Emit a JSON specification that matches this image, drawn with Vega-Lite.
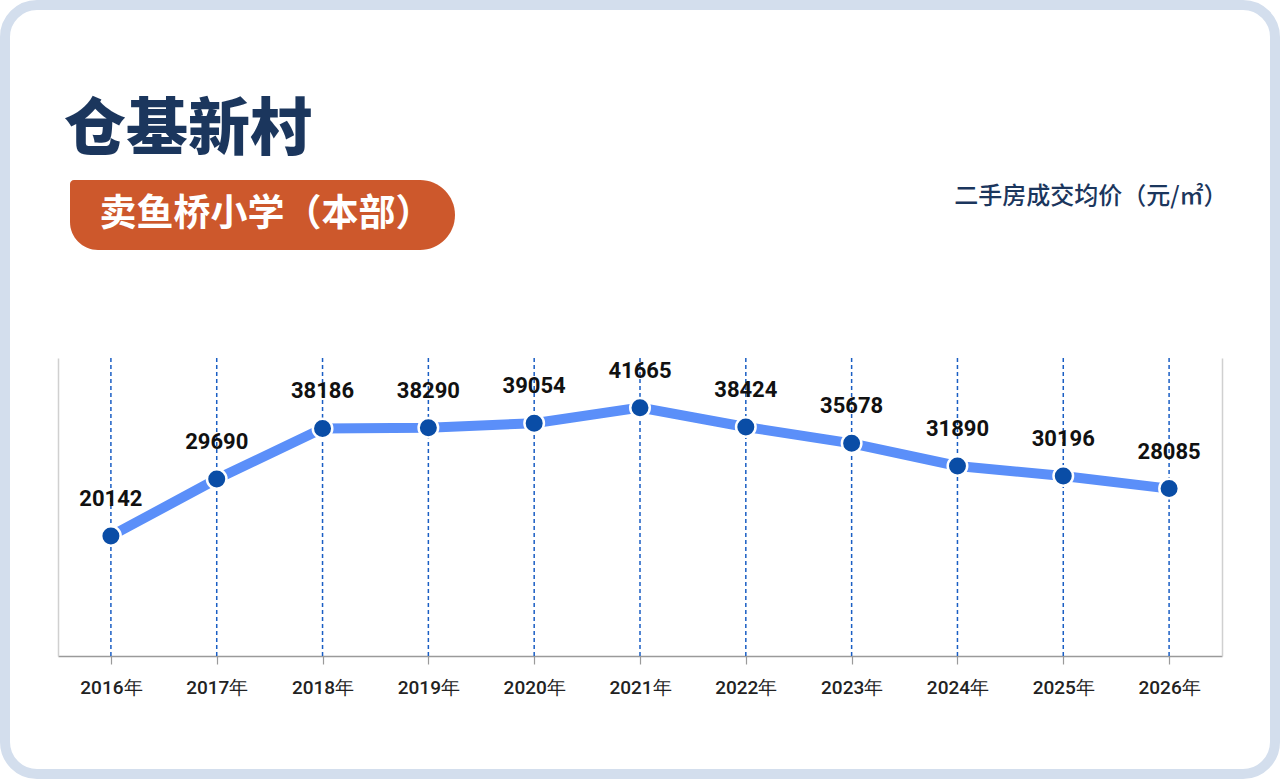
{
  "$schema": "https://vega.github.io/schema/vega-lite/v6.json",
  "width": 1270,
  "height": 769,
  "autosize": {"type": "none"},
  "padding": {"left": 5, "top": 5, "right": 5, "bottom": 5},
  "background": "white",
  "config": {
    "view": {"fill": "white", "stroke": "#d3deed", "strokeWidth": 10, "cornerRadius": 32},
    "font": "Roboto"
  },
  "title": {
    "text": "仓基新村",
    "anchor": "start",
    "frame": "group",
    "orient": "top",
    "dx": 59,
    "offset": -158,
    "font": "Noto Sans CJK SC",
    "fontSize": 62,
    "fontWeight": 900,
    "color": "#1b365d"
  },
  "data": {
    "values": [
      {"year": "2016年", "price": 20142},
      {"year": "2017年", "price": 29690},
      {"year": "2018年", "price": 38186},
      {"year": "2019年", "price": 38290},
      {"year": "2020年", "price": 39054},
      {"year": "2021年", "price": 41665},
      {"year": "2022年", "price": 38424},
      {"year": "2023年", "price": 35678},
      {"year": "2024年", "price": 31890},
      {"year": "2025年", "price": 30196},
      {"year": "2026年", "price": 28085}
    ]
  },
  "layer": [
    {
      "data": {"values": [{"label": "卖鱼桥小学（本部）"}]},
      "layer": [
        {
          "mark": {
            "type": "rect",
            "color": "#cd582c",
            "cornerRadiusTopLeft": 4,
            "cornerRadiusBottomLeft": 28,
            "cornerRadiusTopRight": 35,
            "cornerRadiusBottomRight": 35
          },
          "encoding": {
            "x": {"value": 65},
            "x2": {"value": 450},
            "y": {"value": 175},
            "y2": {"value": 245}
          }
        },
        {
          "mark": {
            "type": "text",
            "font": "Noto Sans CJK SC",
            "fontSize": 37,
            "fontWeight": "bold",
            "color": "white",
            "align": "center",
            "baseline": "middle"
          },
          "encoding": {
            "x": {"value": 261},
            "y": {"value": 210},
            "text": {"field": "label"}
          }
        }
      ]
    },
    {
      "mark": {"type": "rule", "strokeDash": [4, 3], "color": "#1a5ec4", "strokeWidth": 1.5},
      "encoding": {
        "x": {
          "field": "year", "type": "ordinal", "sort": null,
          "scale": {"type": "point", "range": [53, 1217], "padding": 0.5},
          "axis": {
            "orient": "bottom", "offset": -118, "title": null, "grid": false,
            "domainColor": "#9a9a9a", "domainWidth": 1.5,
            "tickColor": "#9a9a9a", "tickSize": 8, "tickWidth": 1.2,
            "labelFont": "Roboto", "labelFontSize": 19, "labelFontWeight": 500,
            "labelColor": "#222222", "labelPadding": 14, "labelAngle": 0
          }
        },
        "y": {
          "datum": 0, "type": "quantitative",
          "scale": {"domain": [0, 50000], "range": [651, 353]},
          "axis": {
            "orient": "left", "offset": -53, "title": null, "labels": false,
            "ticks": false, "grid": false, "domainColor": "#d0d0d0", "domainWidth": 1.5
          }
        },
        "y2": {"datum": 50000}
      }
    },
    {
      "mark": {"type": "line", "color": "#5b8ff9", "strokeWidth": 10},
      "encoding": {
        "x": {"field": "year", "type": "ordinal", "sort": null},
        "y": {
          "field": "price", "type": "quantitative",
          "scale": {"domain": [0, 50000], "range": [651, 353]},
          "axis": {
            "orient": "right", "offset": -53, "labels": false, "ticks": false, "grid": false,
            "domainColor": "#d0d0d0", "domainWidth": 1.5,
            "title": "二手房成交均价（元/㎡）",
            "titleAngle": 0, "titleX": 5, "titleY": 191,
            "titleAlign": "right", "titleBaseline": "middle",
            "titleFont": "Noto Sans CJK SC", "titleFontSize": 24, "titleFontWeight": 500,
            "titleColor": "#1b365d"
          }
        }
      }
    },
    {
      "mark": {"type": "circle", "size": 380, "color": "#0a4da6", "opacity": 1, "stroke": "white", "strokeWidth": 2.5},
      "encoding": {
        "x": {"field": "year", "type": "ordinal", "sort": null},
        "y": {"field": "price", "type": "quantitative", "axis": null}
      }
    },
    {
      "mark": {"type": "text", "dy": -37, "fontSize": 22, "fontWeight": "bold", "font": "Roboto", "color": "#111111"},
      "encoding": {
        "x": {"field": "year", "type": "ordinal", "sort": null},
        "y": {"field": "price", "type": "quantitative", "axis": null},
        "text": {"field": "price", "type": "quantitative", "format": "d"}
      }
    }
  ],
  "resolve": {"axis": {"y": "independent"}}
}
